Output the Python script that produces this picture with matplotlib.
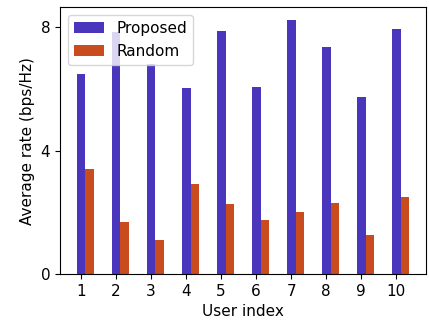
import numpy as np
import matplotlib
matplotlib.use("Agg")
import matplotlib.pyplot as plt

# Per-user average rate for each scheme
users = np.arange(1, 11)
proposed = [6.49, 7.85, 6.83, 6.03, 7.88, 6.06, 8.24, 7.36, 5.74, 7.95]
random_sel = [3.41, 1.69, 1.10, 2.92, 2.27, 1.75, 2.01, 2.30, 1.26, 2.50]

width = 0.25

fig, ax = plt.subplots(figsize=(4.29, 3.22), dpi=100)
fig.subplots_adjust(left=0.14, right=0.993, top=0.977, bottom=0.149)

ax.bar(users, proposed, width, color="#4a36bc", label="Proposed")
ax.bar(users + width, random_sel, width, color="#c84c1e", label="Random")

ax.set_xticks(users)
ax.set_yticks([0, 4, 8])
ax.tick_params(labelsize=11)
ax.set_xlabel("User index", fontsize=11)
ax.set_ylabel("Average rate (bps/Hz)", fontsize=11)
ax.legend(loc="upper left", fontsize=11)

fig.savefig("out.png", dpi=100)
